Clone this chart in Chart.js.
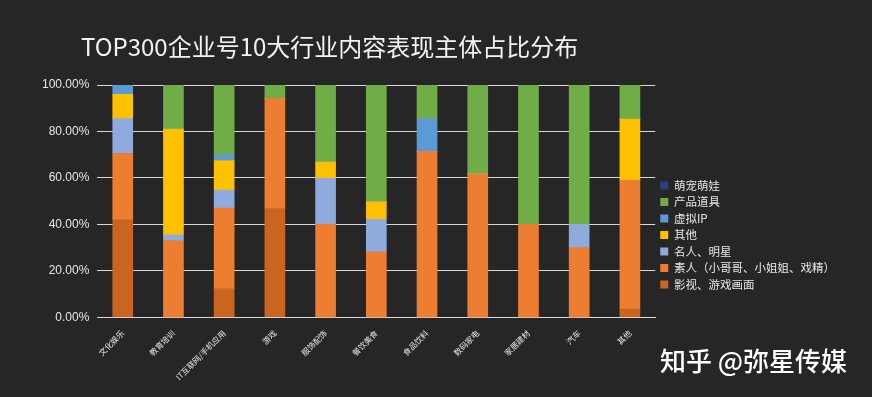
<!DOCTYPE html>
<html>
<head>
<meta charset="utf-8">
<script src="https://cdn.jsdelivr.net/npm/chart.js@4/dist/chart.umd.min.js"></script>
<style>
    html, body { margin: 0; padding: 0; background: #262626; }
    #wrap { position: relative; width: 872px; height: 397px; overflow: hidden; }
    #title {
        position: absolute; left: 81px; top: 28px;
        font-family: "Noto Sans CJK SC", sans-serif; font-size: 24px; font-weight: 400;
        color: #f2f2f2; white-space: nowrap;
    }
    #mark {
        position: absolute; left: 660px; top: 341px;
        font-family: "Noto Sans CJK SC", sans-serif; font-size: 26px; font-weight: 500;
        color: #ffffff; white-space: nowrap;
    }
</style>
</head>
<body>
<div id="wrap">
    <canvas id="chart" width="872" height="397"></canvas>
    <div id="title">TOP300企业号10大行业内容表现主体占比分布</div>
    <div id="mark">知乎 @弥星传媒</div>
</div>
<script>
// industries (x axis)
const categories = ['文化娱乐', '教育培训', 'IT互联网/手机应用', '游戏', '服饰配饰', '餐饮美食',
    '食品饮料', '数码家电', '家居建材', '汽车', '其他'];

// share of each content subject, percent
const filmGame   = [42, 0, 12.3, 46.8, 0, 0, 0, 0, 0, 0, 3.6];
const amateur    = [28.5, 33, 34.7, 47.5, 40, 28.2, 71.5, 61.7, 40, 30, 55.4];
const celebrity  = [15, 2.5, 7.8, 0, 19.8, 14, 0, 0, 0, 10, 0];
const other      = [10.5, 45.5, 12.7, 0, 7, 7.5, 0, 0, 0, 0, 26.3];
const virtualIP  = [4, 0, 2.5, 0, 0, 0, 14, 0, 0, 0, 0];
const product    = [0, 19, 30, 5.7, 33.2, 50.3, 14.5, 38.3, 60, 60, 14.7];
const petsKids   = [0, 0, 0, 0, 0, 0, 0, 0, 0, 0, 0];

const yTicks = [0, 20, 40, 60, 80, 100];

const series = [
    { label: '影视、游戏画面', data: filmGame, color: '#C9651E' },
    { label: '素人（小哥哥、小姐姐、戏精）', data: amateur, color: '#ED7D31' },
    { label: '名人、明星', data: celebrity, color: '#8FAADC' },
    { label: '其他', data: other, color: '#FFC000' },
    { label: '虚拟IP', data: virtualIP, color: '#5B9BD5' },
    { label: '产品道具', data: product, color: '#70AD47' },
    { label: '萌宠萌娃', data: petsKids, color: '#264478' }
];

const cjk = '"Noto Sans CJK SC", sans-serif';

new Chart(document.getElementById('chart').getContext('2d'), {
    type: 'bar',
    data: {
        labels: categories,
        datasets: series.map(s => ({
            label: s.label,
            data: s.data,
            backgroundColor: s.color,
            borderWidth: 0,
            barThickness: 20
        }))
    },
    options: {
        responsive: false,
        animation: false,
        layout: { padding: { left: 34, right: 27, top: 85, bottom: 12 } },
        plugins: {
            legend: {
                position: 'right',
                reverse: true,
                labels: {
                    color: '#e6e6e6',
                    boxWidth: 8,
                    boxHeight: 8,
                    padding: 5,
                    font: { family: cjk, size: 11.5 }
                }
            },
            tooltip: { enabled: false }
        },
        scales: {
            x: {
                stacked: true,
                grid: { display: false },
                border: { color: '#d9d9d9', width: 1 },
                ticks: {
                    color: '#e6e6e6',
                    maxRotation: 45,
                    minRotation: 45,
                    font: { family: cjk, size: 8 }
                }
            },
            y: {
                stacked: true,
                min: 0,
                max: 100,
                afterBuildTicks: axis => { axis.ticks = yTicks.map(v => ({ value: v })); },
                grid: { color: '#d9d9d9', lineWidth: 1, drawTicks: false },
                border: { display: false },
                ticks: {
                    color: '#e6e6e6',
                    padding: 8,
                    font: { family: '"Liberation Sans", Arial, sans-serif', size: 12 },
                    callback: v => v.toFixed(2) + '%'
                }
            }
        }
    }
});
</script>
</body>
</html>
